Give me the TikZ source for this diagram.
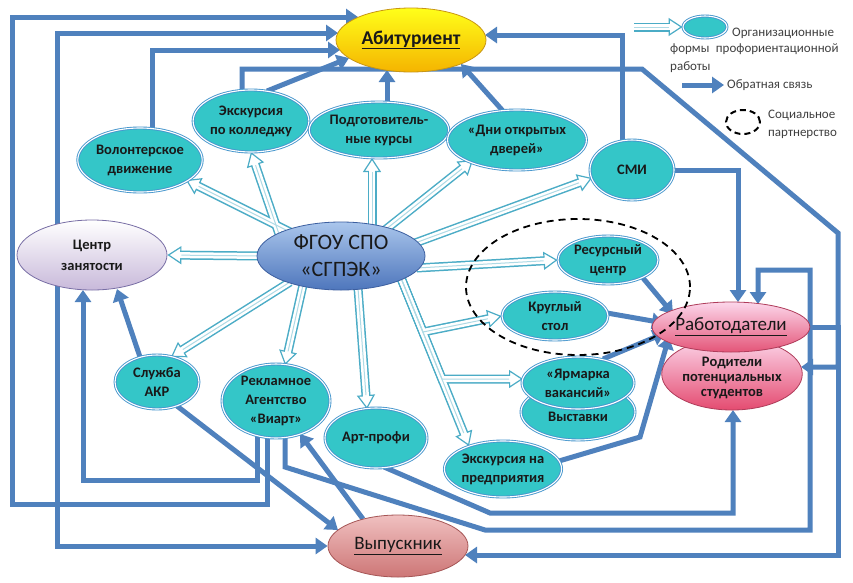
\documentclass[tikz,border=0pt]{standalone}
\usepackage{fontspec}
\setmainfont{Carlito}
\usetikzlibrary{shapes.geometric,arrows.meta,backgrounds,calc}
\definecolor{fbblue}{RGB}{79,129,189}
\definecolor{hcol}{RGB}{75,172,198}
\definecolor{tealfill}{RGB}{52,198,200}
\definecolor{tealline}{RGB}{70,150,205}
\definecolor{txt}{RGB}{25,25,25}
\definecolor{legtxt}{RGB}{64,64,64}
\tikzset{
 base/.style={ellipse, inner sep=0pt, align=center, text=txt, font=\fontsize{14.5}{19}\selectfont\bfseries},
 tnode/.style={base, fill=tealfill, draw=tealline, double=white, double distance=1.1pt, line width=0.9pt},
 fb/.style={draw=fbblue, line width=5pt, -{Triangle[length=12pt,width=16pt]}},
 fbb/.style={draw=fbblue, line width=5pt, {Triangle[length=12pt,width=16pt]}-{Triangle[length=12pt,width=16pt]}},
 hA/.style={draw=hcol, line width=1.2pt, -{Triangle[open,fill=white,length=14pt,width=18pt]}},
 hB/.style={draw=hcol, line width=9pt, shorten >=13.5pt},
 hC/.style={draw=white, line width=6pt, shorten >=11pt},
 hD/.style={draw=hcol!45, line width=1pt, shorten >=14pt},
 legtext/.style={inner sep=0pt, text=legtxt, font=\fontsize{13}{18}\selectfont},
}
\newcommand\hollowset[1]{%
 \draw[#1] ([shift={(-51,-24)}]fg.center) -- ([shift={(46,20)}]vol.center);
 \draw[#1] ([shift={(-62,-22)}]fg.center) -- ([shift={(0,31)}]exk.center);
 \draw[#1] ([shift={(31,-30)}]fg.center) -- ([shift={(-7,28)}]podg.center);
 \draw[#1] ([shift={(44,-26)}]fg.center) -- ([shift={(-44,20)}]dni.center);
 \draw[#1] ([shift={(74,-13)}]fg.center) -- ([shift={(-40,8)}]smi.center);
 \draw[#1] ([shift={(-80,0)}]fg.center) -- (cz.east);
 \draw[#1] ([shift={(76,12)}]fg.center) -- (res.west);
 \draw[#1] ([shift={(60,22)}]fg.center) -- (423,332) -- (kr.west);
 \draw[#1] ([shift={(60,22)}]fg.center) -- (442,379) -- ([shift={(-55,-4)}]yar.center);
 \draw[#1] ([shift={(60,22)}]fg.center) -- ([shift={(-34,-23)}]exp.center);
 \draw[#1] ([shift={(-38,29)}]fg.center) -- ([shift={(9,-36)}]rek.center);
 \draw[#1] ([shift={(17,32)}]fg.center) -- ([shift={(-9,-29)}]art.center);
 \draw[#1] ([shift={(-51,26)}]fg.center) -- ([shift={(14,-25)}]slu.center);
 \draw[#1] (legA) -- (leg.west);
}
\begin{document}
\begin{tikzpicture}[x=1pt,y=-1pt]
\useasboundingbox (0,0) rectangle (853,582);

% ---------- nodes ----------
\node[base, minimum width=150pt, minimum height=64pt, top color=yellow!90!white, bottom color={rgb,255:red,245;green,180;blue,0}, draw={rgb,255:red,200;green,150;blue,20}, line width=0.8pt, font=\fontsize{19.5}{22}\selectfont\bfseries] (abit) at (411,40) {\underline{Абитуриент}};
\node[tnode, minimum width=112pt, minimum height=62pt] (exk) at (251,121) {Экскурсия\\по колледжу};
\node[tnode, minimum width=128pt, minimum height=56pt] (podg) at (379,130) {Подготовитель-\\ные курсы};
\node[tnode, minimum width=120pt, minimum height=60pt] (dni) at (517,140) {«Дни открытых\\дверей»};
\node[tnode, minimum width=84pt, minimum height=60pt] (smi) at (632,170) {СМИ};
\node[tnode, minimum width=114pt, minimum height=64pt] (vol) at (140,160) {Волонтерское\\движение};
\node[base, minimum width=150pt, minimum height=70pt, top color=white, bottom color={rgb,255:red,200;green,185;blue,218}, draw={rgb,255:red,120;green,110;blue,165}, line width=0.8pt] (cz) at (92,255) {Центр\\[2pt]занятости};
\node[base, minimum width=168pt, minimum height=68pt, top color={rgb,255:red,170;green,198;blue,236}, bottom color={rgb,255:red,78;green,118;blue,188}, draw={rgb,255:red,60;green,95;blue,160}, line width=0.8pt, font=\fontsize{22}{27}\selectfont] (fg) at (341,256) {ФГОУ СПО\\«СГПЭК»};
\node[tnode, minimum width=100pt, minimum height=48pt] (res) at (608,260) {Ресурсный\\центр};
\node[tnode, minimum width=106pt, minimum height=48pt] (kr) at (555,316) {Круглый\\стол};
\node[base, minimum width=140pt, minimum height=72pt, top color={rgb,255:red,252;green,215;blue,235}, bottom color={rgb,255:red,228;green,75;blue,112}, draw={rgb,255:red,175;green,60;blue,90}, line width=0.8pt] (rod) at (732,374) {\mbox{}\\[-2pt]Родители\\[-4pt]потенциальных\\[-4pt]студентов};
\node[base, minimum width=136pt, minimum height=50pt, top color={rgb,255:red,252;green,215;blue,235}, bottom color={rgb,255:red,228;green,85;blue,120}, draw={rgb,255:red,175;green,60;blue,90}, line width=0.8pt, font=\fontsize{19}{22}\selectfont] (rab) at (731,327) {\underline{Работодатели}};
\node[tnode, minimum width=114pt, minimum height=56pt] (vys) at (578,412) {\mbox{}\\Выставки};
\node[tnode, minimum width=112pt, minimum height=52pt] (yar) at (578,383) {«Ярмарка\\вакансий»};
\node[tnode, minimum width=116pt, minimum height=56pt] (exp) at (503,469) {Экскурсия на\\предприятия};
\node[tnode, minimum width=102pt, minimum height=60pt] (art) at (376,438) {Арт-профи};
\node[tnode, minimum width=108pt, minimum height=74pt] (rek) at (276,401) {Рекламное\\Агентство\\«Виарт»};
\node[tnode, minimum width=84pt, minimum height=54pt] (slu) at (157,382) {Служба\\АКР};
\node[base, minimum width=140pt, minimum height=62pt, top color={rgb,255:red,240;green,192;blue,192}, bottom color={rgb,255:red,205;green,118;blue,118}, draw={rgb,255:red,165;green,85;blue,85}, line width=0.8pt, font=\fontsize{19}{22}\selectfont] (vyp) at (398,546) {\underline{Выпускник}};

% legend
\node[tnode, minimum width=44pt, minimum height=22pt] (leg) at (705,27) {};
\coordinate (legA) at (634,27);
\coordinate (legB) at (682,85);
\coordinate (legC) at (724,85);
\node[legtext, anchor=west] (lt1) at (732,33) {Организационные};
\node[legtext, anchor=west, align=left] (lt2) at (670,58) {формы\hspace{0.5em}профориентационной\\работы};
\node[legtext, anchor=west] (lt3) at (727,85) {Обратная связь};
\node[legtext, anchor=west, align=left] (lt4) at (768,124) {Социальное\\партнерство};
\draw[line width=2pt, dash pattern=on 6pt off 4pt] (743,122) ellipse [x radius=17pt, y radius=12pt];

% social partnership
\draw[line width=1.8pt, dash pattern=on 7pt off 5pt] (578,287) ellipse [x radius=112pt, y radius=68pt];

% ---------- connectors ----------
\begin{scope}[on background layer]
 \fill[white] (0,0) rectangle (853,582);
 \draw[fb] ([shift={(-9,36)}]rek.center) -- ++(0,67) -| (12,17) -- ([shift={(-53,-23)}]abit.center);
 \draw[fbb] ([shift={(-73,-7)}]abit.center) -| (57,546) -- (vyp.west);
 \draw[fb] ([shift={(12,-31)}]vol.center) |- ([shift={(-71,10)}]abit.center);
 \draw[fb] ([shift={(16,-30)}]exk.center) -- ([shift={(-62,18)}]abit.center);
 \draw[fb] ([shift={(-9,-31)}]exk.center) -- ++(0,-21) -- (642,69) -- (838,233) |- ([shift={(69,-7)}]rod.center);
 \draw[fb] ([shift={(8,-28)}]podg.center) -- ([shift={(-24,30)}]abit.center);
 \draw[fb] ([shift={(-14,-29)}]dni.center) -- ([shift={(50,24)}]abit.center);
 \draw[fb] ([shift={(-10,-29)}]smi.center) |- ([shift={(74,-5)}]abit.center);
 \draw[fb] (smi.east) -| ([shift={(7,-25)}]rab.center);
 \draw[fb] ([shift={(9,36)}]rek.center) -- ++(0,30) -- (485,530) -- (810,530) -- (810,270) -| ([shift={(27,-23)}]rab.center);
 \draw[fb] ([shift={(8,29)}]art.center) -- (490,513) -| ([shift={(1,36)}]rod.center);
 \draw[fb] (rab.east) -- ++(28,0) |- ([shift={(67,9)}]vyp.center);
 \draw[fb] ([shift={(35,18)}]res.center) -- ([shift={(-58,-13)}]rab.center);
 \draw[fb] ([shift={(52,-3)}]kr.center) -- ([shift={(-67,-4)}]rab.center);
 \draw[fb] ([shift={(25,-24)}]yar.center) -- ([shift={(-66,6)}]rab.center);
 \draw[fb] ([shift={(56,-8)}]exp.center) -- (640,437) -- ([shift={(-62,10)}]rab.center);
 \draw[fb] ([shift={(-17,-25)}]slu.center) -- ([shift={(25,34)}]cz.center);
 \draw[fb] ([shift={(-19,35)}]rek.center) -- ++(0,44) -| ([shift={(-9,35)}]cz.center);
 \draw[fb] ([shift={(20,24)}]slu.center) -- ([shift={(-60,-16)}]vyp.center);
 \draw[fb] ([shift={(-35,-27)}]vyp.center) -- ([shift={(24,33)}]rek.center);
 \draw[fb] (legB) -- (legC);
 \hollowset{hA}
 \hollowset{hB}
 \hollowset{hC}
 \hollowset{hD}
\end{scope}
\end{tikzpicture}
\end{document}
